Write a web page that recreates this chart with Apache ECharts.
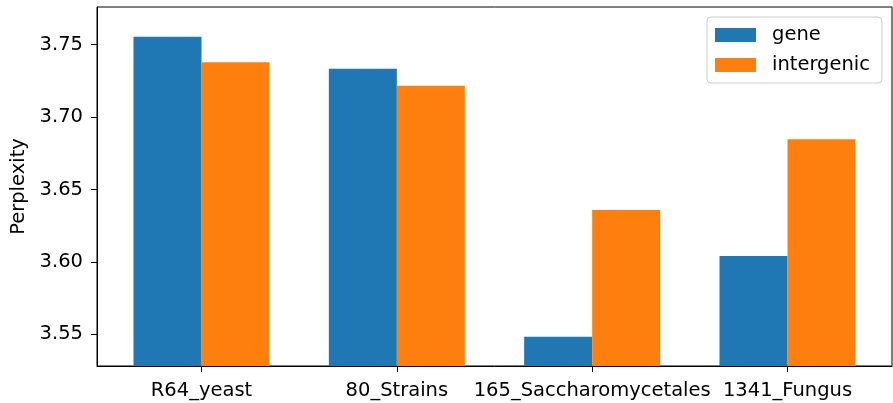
<!DOCTYPE html>
<html>
<head>
<meta charset="utf-8">
<script src="https://cdn.jsdelivr.net/npm/echarts@6/dist/echarts.min.js"></script>
<style>html,body{margin:0;padding:0;background:#fff;}#c{width:893px;height:403px;}</style>
</head>
<body>
<div id="c"></div>
<script>
const categories = ['R64_yeast', '80_Strains', '165_Saccharomycetales', '1341_Fungus'];
const geneValues = [3.7555, 3.7334, 3.5483, 3.6041];
const intergenicValues = [3.7378, 3.7217, 3.6358, 3.6847];
const yTicks = [3.55, 3.60, 3.65, 3.70, 3.75];
const seriesNames = ['gene', 'intergenic'];

const FONT = 'DejaVu Sans';
const chart = echarts.init(document.getElementById('c'), null, {renderer: 'canvas'});
const xPos = categories.map((_, i) => i);
chart.setOption({
  animation: false,
  textStyle: {fontFamily: FONT},
  grid: {left: 97, top: 7, right: 1, bottom: 37, show: true, borderColor: '#000', borderWidth: 1, containLabel: false},
  legend: {
    orient: 'vertical', left: 707, top: 17,
    data: seriesNames,
    icon: 'rect', itemWidth: 41, itemHeight: 14, itemGap: 10,
    padding: [8, 12, 8, 8],
    borderColor: '#cccccc', borderWidth: 1, borderRadius: 4, backgroundColor: '#fff',
    selectedMode: false,
    textStyle: {fontFamily: FONT, fontSize: 19.5, color: '#000', padding: [0, 0, 0, 11]}
  },
  xAxis: {
    type: 'value', min: -0.535, max: 3.535,
    splitLine: {show: false},
    axisLine: {show: true, onZero: false, lineStyle: {color: '#000', width: 1}},
    axisTick: {show: true, length: 6, customValues: xPos, lineStyle: {color: '#000'}},
    axisLabel: {customValues: xPos, margin: 15, fontFamily: FONT, fontSize: 19.5, color: '#000',
      formatter: v => categories[Math.round(v)]}
  },
  yAxis: {
    type: 'value', min: 3.5281, max: 3.776,
    name: 'Perplexity', nameLocation: 'middle', nameGap: 68,
    nameTextStyle: {fontFamily: FONT, fontSize: 19.5, color: '#000'},
    splitLine: {show: false},
    axisLine: {show: true, onZero: false, lineStyle: {color: '#000', width: 1}},
    axisTick: {show: true, length: 6, customValues: yTicks, lineStyle: {color: '#000'}},
    axisLabel: {customValues: yTicks, margin: 14, fontFamily: FONT, fontSize: 19.5, color: '#000',
      formatter: v => v.toFixed(2)}
  },
  series: [
    {name: seriesNames[0], type: 'bar', barWidth: 68, barGap: '0%',
      itemStyle: {color: '#1f77b4'}, data: geneValues.map((v, i) => [xPos[i], v])},
    {name: seriesNames[1], type: 'bar', barWidth: 68, barGap: '0%',
      itemStyle: {color: '#ff7f0e'}, data: intergenicValues.map((v, i) => [xPos[i], v])}
  ]
});
</script>
</body>
</html>
